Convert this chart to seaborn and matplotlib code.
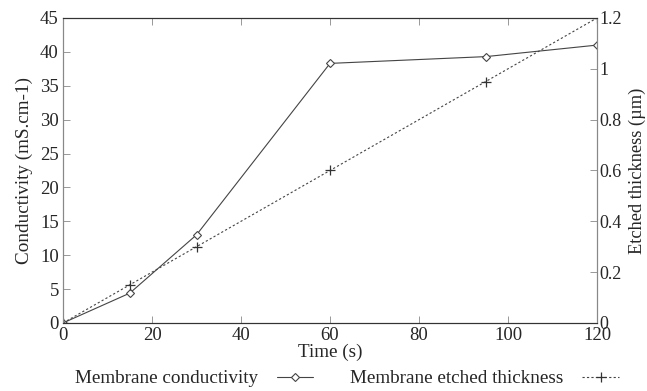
import numpy as np
import pandas as pd
import matplotlib
matplotlib.use('Agg')
import matplotlib.pyplot as plt
import seaborn as sns

# data
time_s = [0, 15, 30, 60, 95, 120]
conductivity = [0, 4.4, 13.0, 38.3, 39.3, 41.0]
thickness = [0, 0.15, 0.30, 0.60, 0.95, 1.2]

sns.set_style('ticks')
plt.rcParams['font.family'] = ['Liberation Serif', 'DejaVu Serif']
plt.rcParams['font.size'] = 13.8

df = pd.DataFrame({'time': time_s, 'cond': conductivity, 'thick': thickness})

fig = plt.figure(figsize=(6.47, 3.91), dpi=100)
ax = fig.add_axes([0.0974, 0.174, 0.8253, 0.780])
ax2 = ax.twinx()

sns.lineplot(data=df, x='time', y='cond', ax=ax, color='#444444', lw=0.8,
             marker='D', markersize=4.5, markerfacecolor='white',
             markeredgecolor='#444444', markeredgewidth=0.8,
             label='Membrane conductivity', legend=False)
sns.lineplot(data=df, x='time', y='thick', ax=ax2, color='#444444', lw=0.8,
             linestyle=(0, (2, 2)), marker='+', markersize=7,
             markeredgecolor='#333333', markeredgewidth=0.9,
             label='Membrane etched thickness', legend=False)

ax.set_xlim(0, 120)
ax.set_ylim(0, 45)
ax2.set_ylim(0, 1.2)
ax.set_xticks(np.arange(0, 121, 20))
ax.set_yticks(np.arange(0, 46, 5))
ax2.set_yticks([0, 0.2, 0.4, 0.6, 0.8, 1.0, 1.2])
ax2.set_yticklabels(['0', '0.2', '0.4', '0.6', '0.8', '1', '1.2'])

ax.set_xlabel('Time (s)', labelpad=0)
ax.set_ylabel('Conductivity (mS.cm-1)', labelpad=5)
ax2.set_ylabel('Etched thickness (µm)', fontsize=13.2)
ax2.yaxis.set_label_coords(1.059, 0.5)

ax.tick_params(axis='x', direction='in', top=True, length=5, width=0.6,
               color='#888888', pad=3, labelsize=13.5)
ax.tick_params(axis='y', direction='in', length=5, width=0.6, color='#888888',
               pad=3, labelsize=13.5)
ax2.tick_params(axis='y', direction='in', length=5, width=0.6, color='#888888',
                pad=2, labelsize=13)

for a in (ax, ax2):
    for side in ('left', 'right'):
        a.spines[side].set_color('#888888')
        a.spines[side].set_linewidth(0.8)
    for side in ('top', 'bottom'):
        a.spines[side].set_color('#333333')
        a.spines[side].set_linewidth(0.8)
    a.spines['top'].set_visible(True)
    a.spines['right'].set_visible(True)

h1, l1 = ax.get_legend_handles_labels()
h2, l2 = ax2.get_legend_handles_labels()
fig.legend(h1 + h2, l1 + l2, loc='lower center', bbox_to_anchor=(0.536, -0.035),
           ncol=2, frameon=False, markerfirst=False, handlelength=1.9,
           handletextpad=1.0, columnspacing=1.9, fontsize=13.8)

fig.savefig('out.png', dpi=100)
